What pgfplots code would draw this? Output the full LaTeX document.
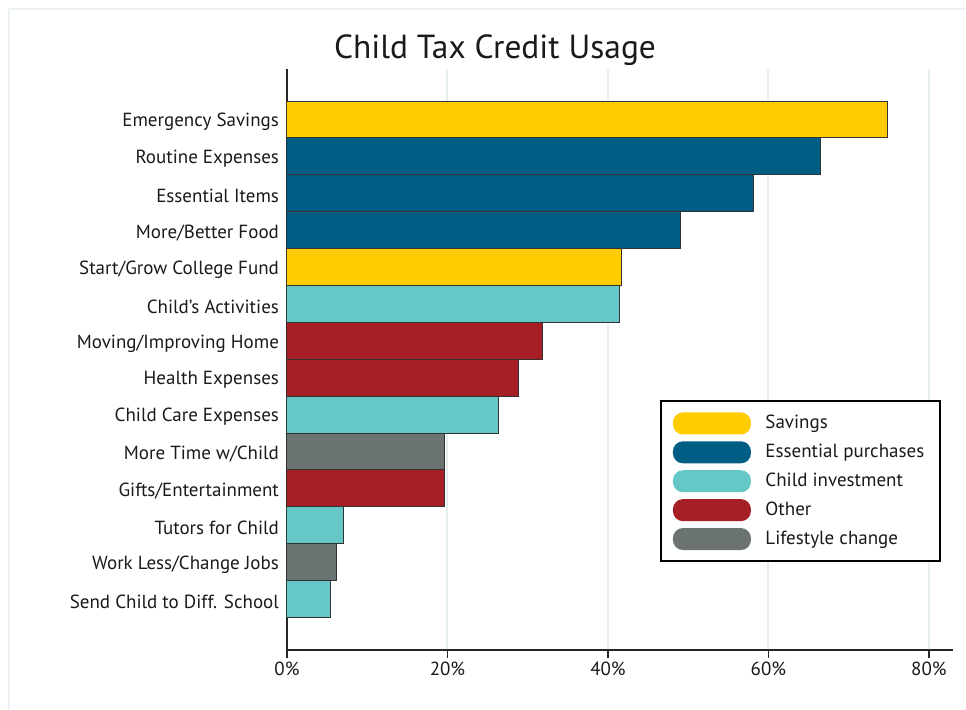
\documentclass[border=0pt]{standalone}
\usepackage{fontspec}
\setmainfont{PT Sans}
\usepackage{pgfplots}
\pgfplotsset{compat=1.18}
\definecolor{csav}{RGB}{255,204,0}
\definecolor{cess}{RGB}{0,94,133}
\definecolor{cinv}{RGB}{102,200,198}
\definecolor{coth}{RGB}{165,31,36}
\definecolor{clif}{RGB}{107,116,114}
\definecolor{cgrid}{RGB}{230,238,240}
\definecolor{cframe}{RGB}{236,241,241}
\definecolor{ctext}{RGB}{26,26,26}
\begin{document}
\begin{tikzpicture}
\path[use as bounding box] (-143.5pt,-29.5pt) rectangle (339.5pt,325pt);
\draw[cframe, line width=1pt] (-139pt,-40pt) -- (-139pt,320.5pt) -- (350pt,320.5pt);
\node[anchor=base, font=\fontsize{16.7}{19}\selectfont, text=ctext] at (104pt,296pt) {Child Tax Credit Usage};
\begin{axis}[
  scale only axis,
  width=333pt, height=290.5pt,
  xbar, bar shift=0pt, bar width=1,
  xmin=0, xmax=83,
  ymin=-0.37, ymax=15.38,
  y dir=reverse,
  axis x line*=bottom, axis y line*=left,
  axis line style={line width=0.75pt, black!85},
  xtick={0,20,40,60,80},
  xticklabel={\pgfmathprintnumber{\tick}\%},
  /pgf/number format/assume math mode=true,
  xtick style={line width=0.75pt, black!85},
  tick align=outside,
  major tick length=4pt,
  ytick={1,...,14},
  yticklabels={Emergency Savings,Routine Expenses,Essential Items,More/Better Food,Start/Grow College Fund,Child’s Activities,Moving/Improving Home,Health Expenses,Child Care Expenses,More Time w/Child,Gifts/Entertainment,Tutors for Child,Work Less/Change Jobs,Send Child to Diff. School},
  ytick style={draw=none},
  tick label style={font=\fontsize{9.5}{11}\selectfont, text=ctext},
  yticklabel style={xshift=3.5pt, yshift=-1.2pt},
  xticklabel style={yshift=1.5pt},
  xmajorgrids, grid style={cgrid, line width=1pt},
  every axis plot/.append style={draw=black!80, line width=0.5pt},
  legend style={at={(0.56,0.43)}, anchor=north west, draw=black, line width=1pt,
    font=\fontsize{9.5}{11}\selectfont, text=ctext, inner xsep=6pt, inner ysep=5pt,
    row sep=2.2pt, cells={anchor=west}},
  legend image code/.code={\fill[#1, draw=none, rounded corners=5pt] (0pt,-5.5pt) rectangle (39pt,5.5pt); \path (44pt,0pt);},
  legend cell align=left,
]
\addplot[fill=csav] coordinates {(74.8,1) (41.7,5)};
\addplot[fill=cess] coordinates {(66.5,2) (58.1,3) (49.0,4)};
\addplot[fill=cinv] coordinates {(41.5,6) (26.3,9) (7.0,12) (5.4,14)};
\addplot[fill=coth] coordinates {(31.8,7) (28.8,8) (19.6,11)};
\addplot[fill=clif] coordinates {(19.6,10) (6.2,13)};
\legend{Savings,Essential purchases,Child investment,Other,Lifestyle change}
\end{axis}
\end{tikzpicture}
\end{document}
